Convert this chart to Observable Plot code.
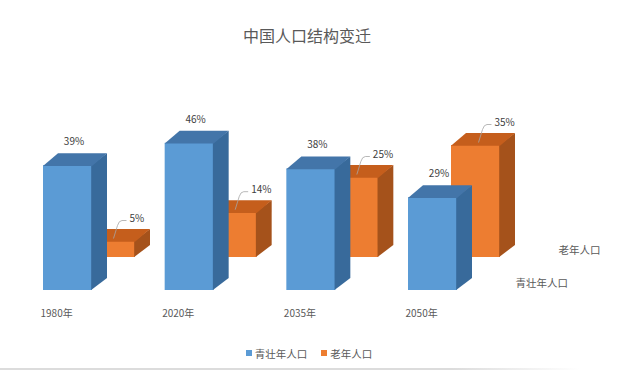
<!DOCTYPE html>
<html><head><meta charset="utf-8">
<script src="https://cdn.jsdelivr.net/npm/d3@7"></script>
<script src="https://cdn.jsdelivr.net/npm/@observablehq/plot@0.6"></script>
<style>
body{margin:0;background:#fff;font-family:"Noto Sans CJK SC",sans-serif;width:640px;height:392px;position:relative;overflow:hidden}
#title{height:35px;padding-top:25px;line-height:20px;font-size:16px;color:#595959;text-align:center;padding-right:26px}
#chart svg{display:block}
#legend{display:flex;justify-content:center;align-items:center;gap:14px;margin-top:15px;height:16px;font-size:10.5px;color:#595959;padding-right:22px}
#legend .item{display:flex;align-items:center;gap:3px}
#legend .sw{width:6px;height:6px;display:inline-block}
#rule{position:absolute;left:0;top:368px;width:580px;height:2px;background:linear-gradient(to right,#dcdcdc 0%,#dcdcdc 78%,rgba(220,220,220,0) 100%)}
</style>
</head><body>
<div id="title">中国人口结构变迁</div>
<div id="chart"></div>
<div id="legend"></div>
<div id="rule"></div>
<script>
// ---- data ----
const years = ["1980年", "2020年", "2035年", "2050年"];
const youngShare = [39, 46, 38, 29];   // 青壮年人口 (%)
const oldShare = [5, 14, 25, 35];      // 老年人口 (%)
const seriesNames = ["青壮年人口", "老年人口"];
const seriesColors = ["#5b9bd5", "#ed7d31"];

// ---- style constants ----
const W = 49, DX = 15, DY = -12, O = -0.5, OV = 0.8;
const rows = [
  {name: seriesNames[1], values: oldShare, front: seriesColors[1], side: "#a5521b", top: "#c55e1c", dx: 43, dy: -33, leader: true},
  {name: seriesNames[0], values: youngShare, front: seriesColors[0], side: "#386a9b", top: "#4375a9", dx: 0, dy: 0, leader: false}
];

function polyCurve(shape) {
  return (context) => {
    let pts = [];
    return {
      areaStart() {}, areaEnd() {},
      lineStart() { pts = []; },
      point(x, y) { pts.push([+x + O, +y + O]); },
      lineEnd() {
        const poly = shape(pts[0], pts[1]);
        poly.forEach(([px, py], k) => k ? context.lineTo(px, py) : context.moveTo(px, py));
        context.closePath();
      }
    };
  };
}
const sideFace = ([x, yb], [, yt]) => [[x + W/2 - OV, yb], [x + W/2 - OV, yt], [x + W/2 + DX, yt + DY], [x + W/2 + DX, yb + DY]];
const topFace = ([x, yt]) => [[x - W/2, yt + OV], [x + W/2, yt + OV], [x + W/2 + DX, yt + DY], [x - W/2 + DX, yt + DY]];

function leaderCurve(context) {
  let pts = [];
  return {
    areaStart() {}, areaEnd() {},
    lineStart() { pts = []; },
    point(x, y) { pts.push([+x, +y]); },
    lineEnd() {
      const [x, y] = pts[0];
      context.moveTo(x + 2.5, y - 3);
      context.lineTo(x + 6.5, y - 16);
      context.quadraticCurveTo(x + 8, y - 21, x + 11, y - 21);
      context.lineTo(x + 15.5, y - 21);
    }
  };
}

const marks = [];
for (const r of rows) {
  const data = years.map((year, i) => ({year, value: r.values[i]}));
  marks.push(Plot.barY(data, {x: "year", y: "value", fill: r.front, dx: r.dx, dy: r.dy}));
  marks.push(Plot.link(data, {x1: "year", x2: "year", y1: () => 0, y2: "value", fill: r.side, stroke: "none", curve: polyCurve(sideFace), dx: r.dx, dy: r.dy}));
  marks.push(Plot.link(data, {x1: "year", x2: "year", y1: "value", y2: "value", fill: r.top, stroke: "none", curve: polyCurve(topFace), dx: r.dx, dy: r.dy}));
  if (r.leader) {
    marks.push(Plot.link(data, {x1: "year", x2: "year", y1: "value", y2: "value", stroke: "#a6a6a6", strokeWidth: 0.8, fill: "none", curve: leaderCurve, dx: r.dx, dy: r.dy}));
    marks.push(Plot.text(data, {x: "year", y: "value", text: d => d.value + "%", textAnchor: "start", dx: r.dx + 18.5, dy: r.dy - 23, fill: "#404040"}));
  } else {
    marks.push(Plot.text(data, {x: "year", y: "value", text: d => d.value + "%", dx: r.dx + 6, dy: r.dy - 24, fill: "#404040"}));
  }
  // depth-axis label for this row
  marks.push(Plot.text([r.name], {x: () => years[years.length - 1], y: () => 0, text: d => d, textAnchor: "start", dx: 82.5 + r.dx, dy: -7 + r.dy, fill: "#595959", fontSize: 10.5}));
}
// category axis labels
marks.push(Plot.text(years, {x: d => d, y: () => 0, text: d => d, textAnchor: "start", dx: -27.5, dy: 23, fill: "#595959"}));

const chart = Plot.plot({
  width: 640,
  height: 270,
  marginTop: 70,
  marginBottom: 40,
  marginLeft: 0,
  marginRight: 0,
  x: {type: "band", domain: years, range: [43, 457], paddingInner: 0.5973, paddingOuter: 0, align: 0.5, round: false, axis: null},
  y: {domain: [0, 50], axis: null},
  style: {fontFamily: "Noto Sans CJK SC, sans-serif", fontSize: "10px", color: "#595959", background: "transparent", overflow: "visible"},
  marks
});
document.getElementById("chart").appendChild(chart);

// legend
const legend = document.getElementById("legend");
seriesNames.forEach((n, i) => {
  const it = document.createElement("span");
  it.className = "item";
  it.innerHTML = `<span class="sw" style="background:${seriesColors[i]}"></span><span>${n}</span>`;
  legend.appendChild(it);
});
</script>
</body></html>
